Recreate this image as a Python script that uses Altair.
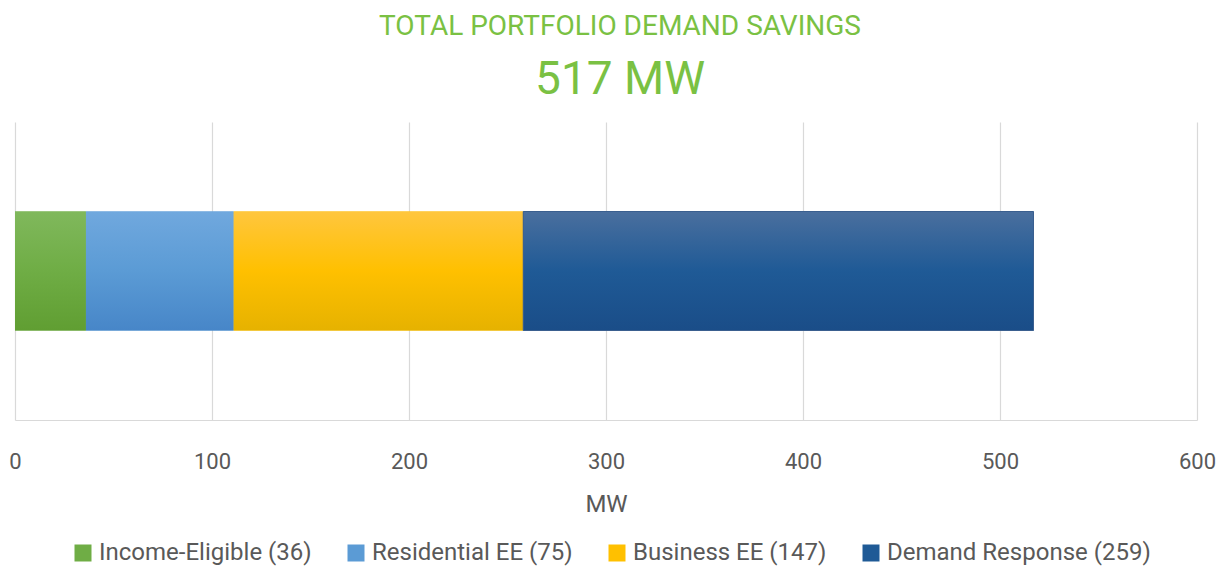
import altair as alt
import pandas as pd

categories = ["Income-Eligible", "Residential EE", "Business EE", "Demand Response"]
values = [36, 75, 147, 259]
labels = [f"{c} ({v})" for c, v in zip(categories, values)]
mid_colors = ["#6fad45", "#5b9bd5", "#ffc000", "#1f5a96"]
top_colors = ["#80b85c", "#70a8de", "#ffc63e", "#4a6f9e"]
bot_colors = ["#609e32", "#4786c8", "#e6b200", "#1a4d88"]
x_ticks = [0, 100, 200, 300, 400, 500, 600]

FONT = "Roboto"
GREEN = "#7ac143"
GRAY = "#595959"

df = pd.DataFrame({
    "category": categories,
    "value": values,
    "label": labels,
    "order": list(range(len(categories))),
    "row": ["Total"] * len(categories),
})

base = alt.Chart(df).transform_stack(
    stack="value", as_=["x0", "x1"], groupby=["row"],
    sort=[alt.SortField("order", order="ascending")]
)

x_enc = alt.X(
    "x0:Q",
    scale=alt.Scale(domain=[0, 600], nice=False),
    axis=alt.Axis(
        values=x_ticks, title="MW", ticks=False, labelFlush=False,
        labelFontSize=22, labelColor=GRAY, labelFont=FONT, labelPadding=31,
        titleFontSize=24, titleColor=GRAY, titleFont=FONT, titleFontWeight="normal",
        titlePadding=20,
        domainColor="#d9d9d9", gridColor="#d9d9d9", gridWidth=1.2,
    ),
)

legend_layer = base.mark_bar(size=119).encode(
    x=x_enc,
    x2="x1:Q",
    y=alt.Y("row:N", axis=None),
    color=alt.Color(
        "label:N",
        scale=alt.Scale(domain=labels, range=mid_colors),
        sort=labels,
        title=None,
        legend=alt.Legend(
            orient="none", legendX=56, legendY=419, padding=0,
            direction="horizontal", symbolType="square",
            symbolSize=289, symbolStrokeWidth=0, labelFontSize=24, labelColor=GRAY,
            labelFont=FONT, columnPadding=32, labelLimit=400, labelOffset=4,
        ),
    ),
)

layers = [legend_layer]
for i in range(len(categories)):
    grad = alt.Gradient(
        gradient="linear",
        stops=[
            alt.GradientStop(color=top_colors[i], offset=0),
            alt.GradientStop(color=mid_colors[i], offset=0.5),
            alt.GradientStop(color=bot_colors[i], offset=1),
        ],
        x1=0, x2=0, y1=0, y2=1,
    )
    kw = {}
    if i == 3:
        kw = {"stroke": "#3a5f8f", "strokeWidth": 1}
    layer = base.transform_filter(alt.datum.order == i).mark_bar(
        size=119, color=grad, **kw
    ).encode(
        x=alt.X("x0:Q"),
        x2="x1:Q",
        y=alt.Y("row:N", axis=None),
    )
    layers.append(layer)

chart = alt.layer(*layers).properties(
    width=1182,
    height=298,
    padding={"left": 0, "top": 5, "right": 0, "bottom": 5},
    title=alt.Title(
        text="TOTAL PORTFOLIO DEMAND SAVINGS",
        subtitle="517 MW",
        font=FONT, subtitleFont=FONT,
        fontSize=28, subtitleFontSize=46,
        fontWeight="normal", subtitleFontWeight="normal",
        color=GREEN, subtitleColor=GREEN,
        anchor="middle", offset=19, subtitlePadding=17, dx=14,
    ),
).configure_view(strokeWidth=0)

chart.save("out.html", embed_options={"renderer": "svg", "actions": False})
